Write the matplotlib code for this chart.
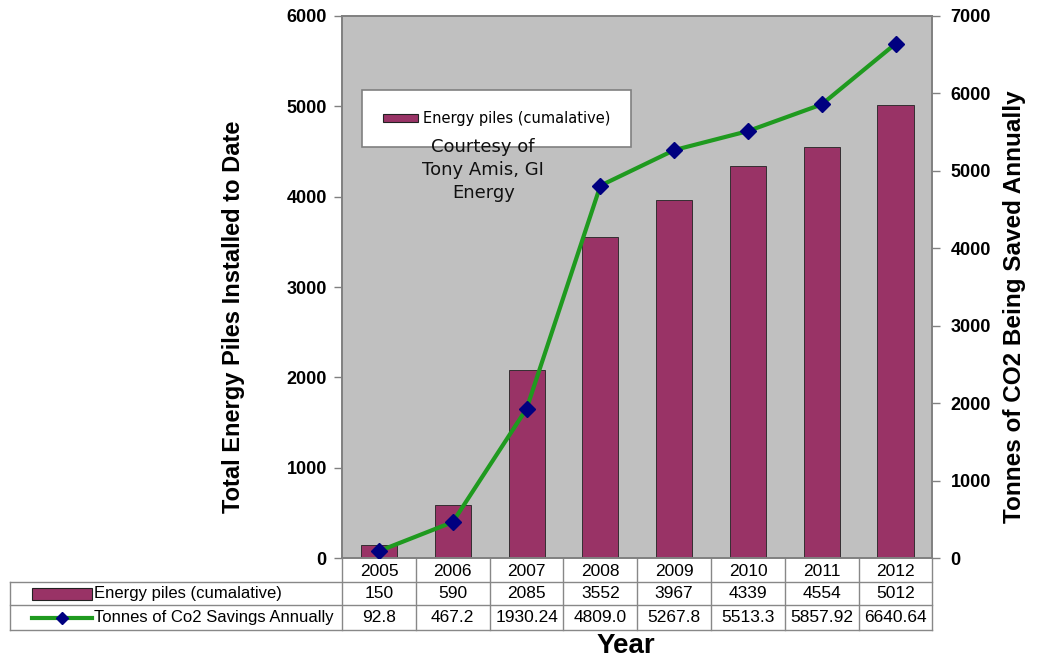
import matplotlib.pyplot as plt
from matplotlib.lines import Line2D
from matplotlib.patches import Rectangle

years = ["2005", "2006", "2007", "2008", "2009", "2010", "2011", "2012"]
piles = [150, 590, 2085, 3552, 3967, 4339, 4554, 5012]
co2 = [92.8, 467.2, 1930.24, 4809.0, 5267.8, 5513.3, 5857.92, 6640.64]
co2_labels = ["92.8", "467.2", "1930.24", "4809.0", "5267.8", "5513.3", "5857.92", "6640.64"]

BAR = "#993366"
LINE = "#1f9a1f"
MARK = "#000080"
GRID = "#808080"

arial = ["Liberation Sans", "DejaVu Sans"]

fig = plt.figure(figsize=(10.43, 6.63), dpi=100)
ax = fig.add_axes([0.328, 0.158, 0.566, 0.818])
ax.set_facecolor("#c0c0c0")

x = list(range(len(years)))
ax.bar(x, piles, width=0.49, color=BAR, edgecolor="#222222", linewidth=0.6, zorder=2)
ax.set_xlim(-0.5, len(years) - 0.5)
ax.set_ylim(0, 6000)
ax.set_xticks([])
ax.set_yticks(range(0, 6001, 1000))
ax.tick_params(axis="y", direction="out", length=6, width=1, color=GRID, pad=5)
for lab in ax.get_yticklabels():
    lab.set_fontfamily(arial)
    lab.set_fontweight("bold")
    lab.set_fontsize(13)
for s in ax.spines.values():
    s.set_color(GRID)
    s.set_linewidth(1.2)

ax2 = ax.twinx()
ax2.plot(x, co2, color=LINE, lw=3, marker="D", ms=8, mfc=MARK, mec=MARK, zorder=3)
ax2.set_ylim(0, 7000)
ax2.set_yticks(range(0, 7001, 1000))
ax2.tick_params(axis="y", direction="out", length=6, width=1, color=GRID, pad=7)
for lab in ax2.get_yticklabels():
    lab.set_fontfamily(arial)
    lab.set_fontweight("bold")
    lab.set_fontsize(13)
for s in ax2.spines.values():
    s.set_color(GRID)
    s.set_linewidth(1.2)

ax.set_ylabel("Total Energy Piles Installed to Date", family=arial, fontweight="bold",
              fontsize=17)
ax.yaxis.set_label_coords(-0.164, 0.445)
ax2.set_ylabel("Tonnes of CO2 Being Saved Annually", family=arial, fontweight="bold",
               fontsize=17.5)
ax2.yaxis.set_label_coords(1.119, 0.463)

# legend box with only the bar series
leg = ax2.legend([Rectangle((0, 0), 1, 1, fc=BAR, ec="#222222", lw=0.8)],
                 ["Energy piles (cumalative)"], loc="upper left",
                 bbox_to_anchor=(0.034, 0.8635), borderaxespad=0, frameon=True,
                 fancybox=False, framealpha=1, borderpad=1.45, handlelength=2.4,
                 handleheight=0.5, handletextpad=0.3,
                 prop={"family": "DejaVu Sans", "size": 10.5})
leg.get_frame().set_edgecolor(GRID)
leg.get_frame().set_linewidth(1.2)
leg.set_zorder(6)

ax2.text(0.239, 0.775, "Courtesy of\nTony Amis, GI\nEnergy", transform=ax.transAxes,
         ha="center", va="top", fontsize=13, family="DejaVu Sans", color="#111111",
         linespacing=1.35, zorder=10)

# data table under the axes
tr = ax.transAxes
rows_y = [-0.0037, -0.0443, -0.0867, -0.1328]
left = -0.563
tcol = "#888888"
lw = 1.0

def hline(x0, x1, y):
    ax.add_line(Line2D([x0, x1], [y, y], transform=tr, color=tcol, lw=lw, clip_on=False))

def vline(xv, y0, y1):
    ax.add_line(Line2D([xv, xv], [y0, y1], transform=tr, color=tcol, lw=lw, clip_on=False))

hline(left, 1, rows_y[1])
hline(left, 1, rows_y[2])
hline(left, 1, rows_y[3])
vline(left, rows_y[3], rows_y[1])
for k in range(len(years) + 1):
    vline(k / len(years), rows_y[3], 0)

def cell_text(col, row, s):
    xc = (col + 0.5) / len(years)
    yc = (rows_y[row] + rows_y[row + 1]) / 2
    ax.text(xc, yc, s, transform=tr, ha="center", va="center", fontsize=12.5,
            family=arial, clip_on=False)

for i in range(len(years)):
    cell_text(i, 0, years[i])
    cell_text(i, 1, str(piles[i]))
    cell_text(i, 2, co2_labels[i])

# row labels with series keys
y1 = (rows_y[1] + rows_y[2]) / 2
y2 = (rows_y[2] + rows_y[3]) / 2
kx0, kx1 = -0.525, -0.424
ax.add_patch(Rectangle((kx0, y1 - 0.011), kx1 - kx0, 0.022, transform=tr,
                       fc=BAR, ec="#222222", lw=0.8, clip_on=False))
ax.text(kx1 + 0.004, y1, "Energy piles (cumalative)", transform=tr, ha="left", va="center",
        fontsize=12, family=arial, clip_on=False)
ax.add_line(Line2D([kx0, kx1], [y2, y2], transform=tr, color=LINE, lw=3, clip_on=False))
ax.add_line(Line2D([(kx0 + kx1) / 2], [y2], transform=tr, marker="D", ms=6, mfc=MARK,
                   mec=MARK, clip_on=False))
ax.text(kx1 + 0.004, y2, "Tonnes of Co2 Savings Annually", transform=tr, ha="left",
        va="center", fontsize=12, family=arial, clip_on=False)

fig.text(0.6, 0.006, "Year", ha="center", va="bottom", fontsize=20, fontweight="bold",
         family=arial)

fig.savefig("out.png", dpi=100)
